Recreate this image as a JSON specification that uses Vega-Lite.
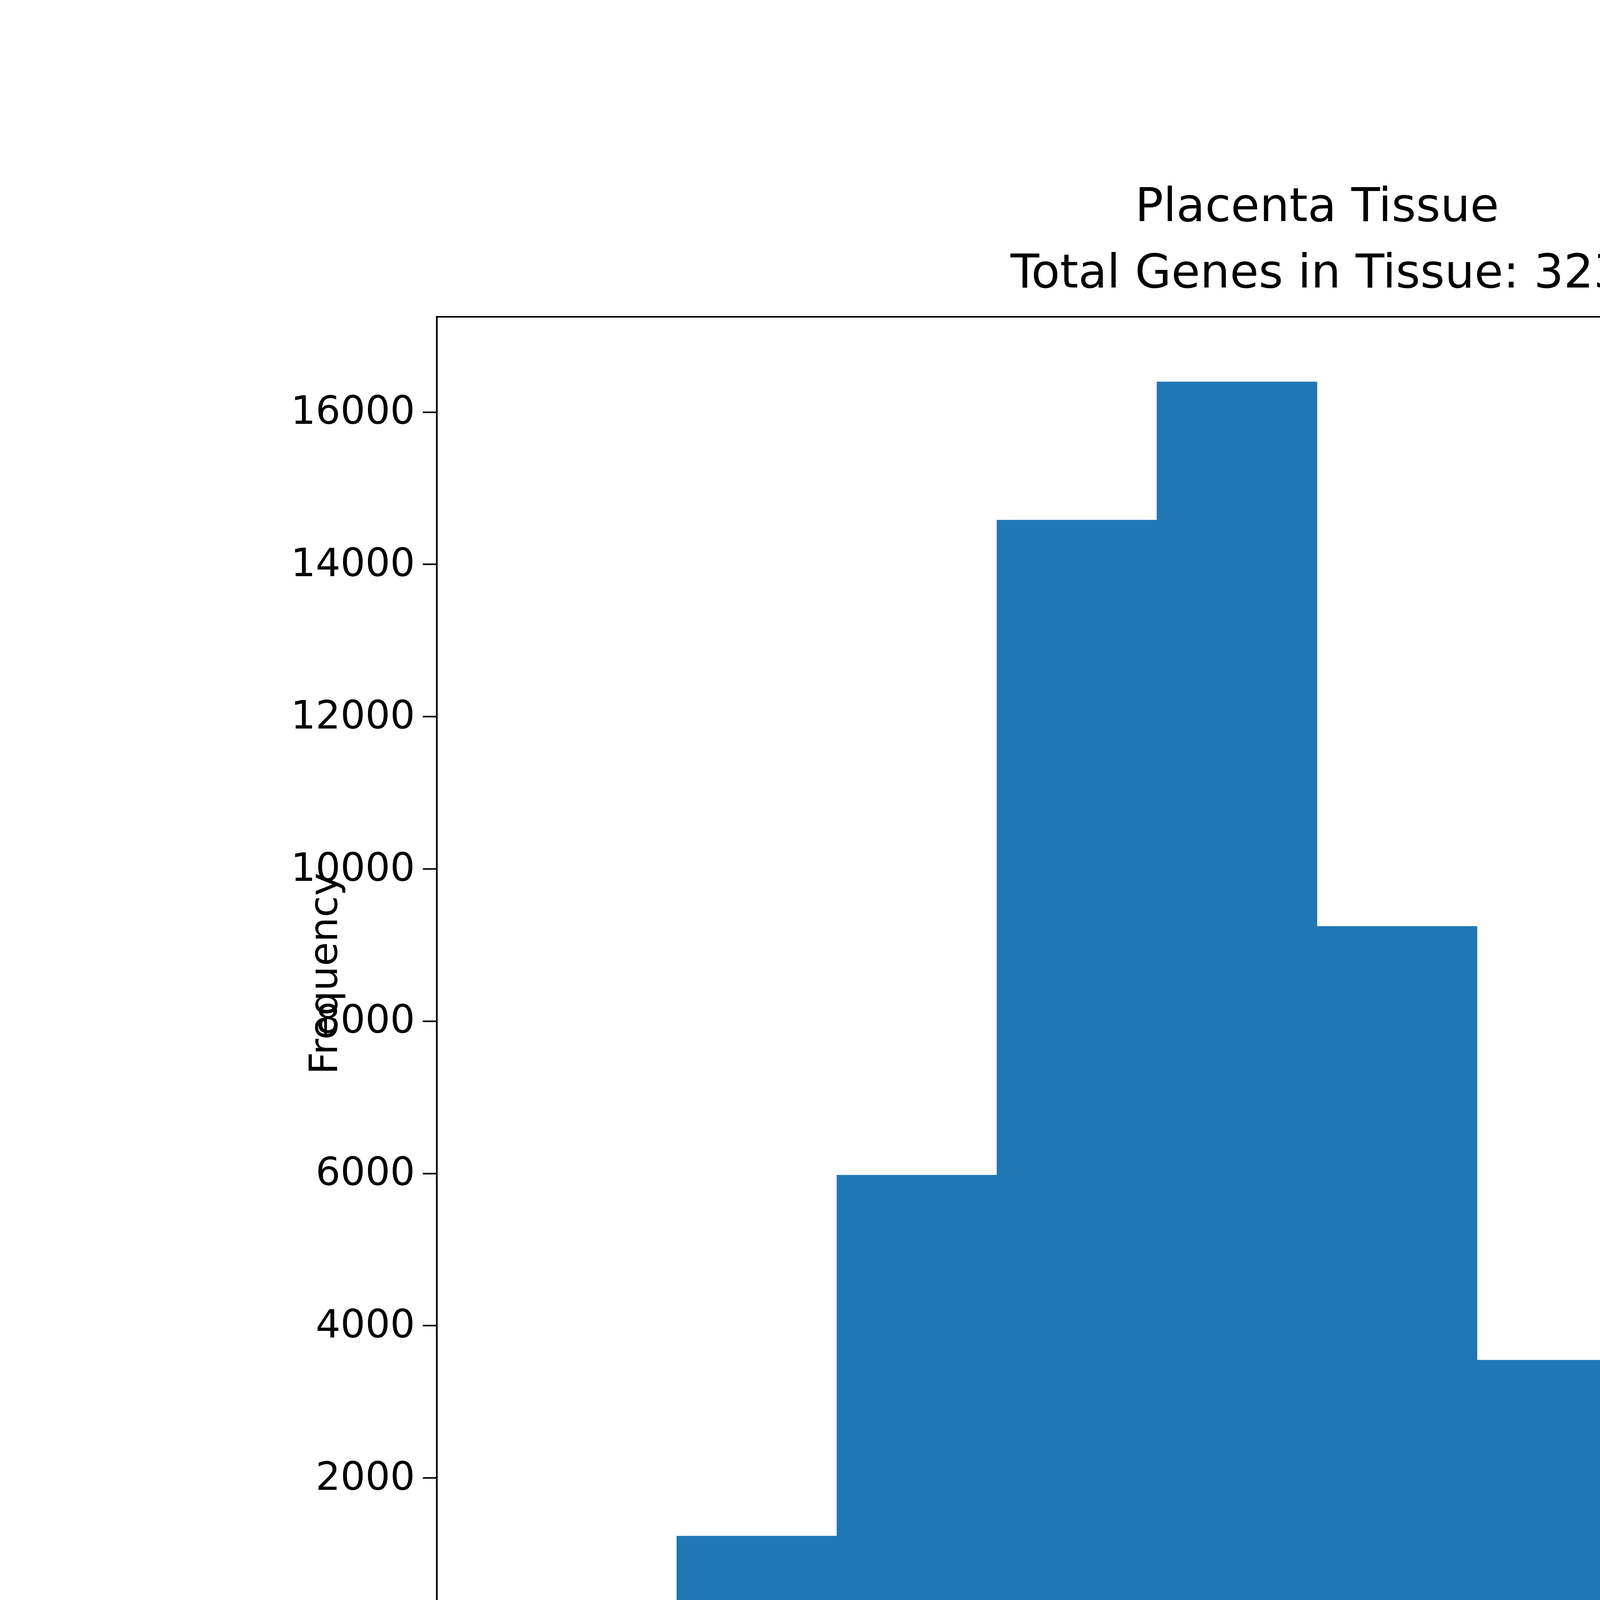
{
  "$schema": "https://vega.github.io/schema/vega-lite/v6.json",
  "autosize": "none",
  "width": 4507,
  "height": 3362,
  "padding": {"left": 1118, "top": 811, "right": 400, "bottom": 789},
  "background": "white",
  "config": {
    "font": "DejaVu Sans",
    "view": {"stroke": "black", "strokeWidth": 4},
    "axis": {
      "labelFont": "DejaVu Sans", "titleFont": "DejaVu Sans",
      "labelFontSize": 100, "titleFontSize": 100, "labelLimit": 0,
      "labelColor": "black", "titleColor": "black", "titleFontWeight": "normal",
      "domainColor": "black", "domainWidth": 4, "tickColor": "black", "tickWidth": 4,
      "tickSize": 36, "labelPadding": 20, "grid": false
    }
  },
  "title": {
    "text": ["Placenta Tissue", "Total Genes in Tissue: 323"],
    "font": "DejaVu Sans", "fontSize": 120, "fontWeight": "normal", "color": "black",
    "lineHeight": 170, "offset": 50, "anchor": "middle", "limit": 0
  },
  "data": {
    "values": [
      {"start": 0.0, "end": 0.48, "count": 0},
      {"start": 0.48, "end": 0.96, "count": 1235},
      {"start": 0.96, "end": 1.44, "count": 5976},
      {"start": 1.44, "end": 1.92, "count": 14580},
      {"start": 1.92, "end": 2.40, "count": 16395},
      {"start": 2.40, "end": 2.88, "count": 9243},
      {"start": 2.88, "end": 3.36, "count": 3546},
      {"start": 3.36, "end": 3.84, "count": 837},
      {"start": 3.84, "end": 4.32, "count": 140},
      {"start": 4.32, "end": 4.80, "count": 10}
    ]
  },
  "mark": {"type": "rect", "color": "#1f77b4", "stroke": "#1f77b4", "strokeWidth": 1},
  "encoding": {
    "x": {"field": "start", "type": "quantitative",
      "scale": {"domain": [-0.24, 5.04], "nice": false, "zero": false},
      "axis": {"values": [0, 1, 2, 3, 4, 5], "format": "d", "title": "Pairwise Distances", "titlePadding": 25}},
    "x2": {"field": "end"},
    "y": {"field": "count", "type": "quantitative",
      "scale": {"domain": [0, 17250], "nice": false},
      "axis": {"values": [0, 2000, 4000, 6000, 8000, 10000, 12000, 14000, 16000], "format": "d", "title": "Frequency", "titlePadding": 35}},
    "y2": {"datum": 0}
  }
}
